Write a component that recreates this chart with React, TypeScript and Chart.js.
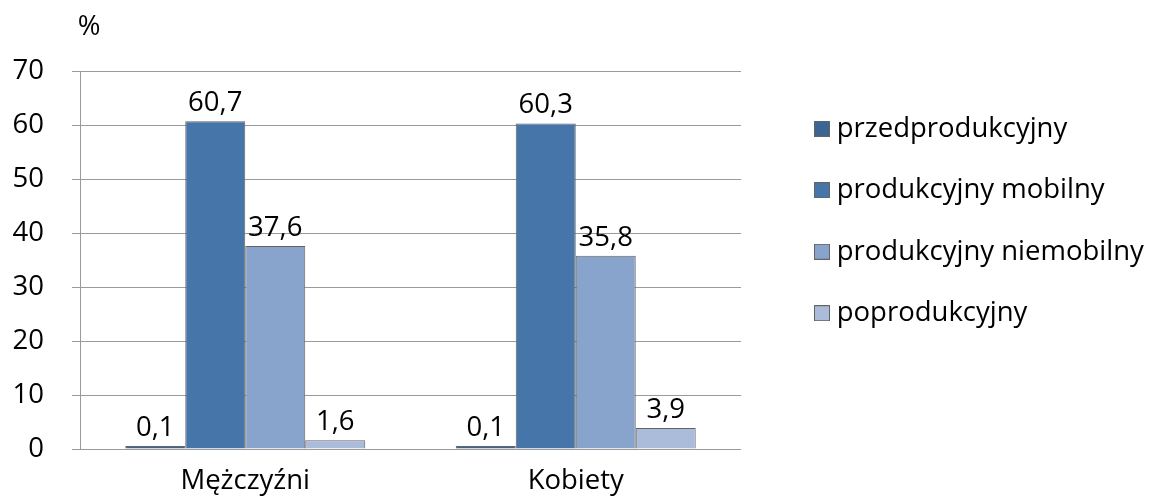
import React, { useEffect, useRef } from 'react';
import { Chart, registerables } from 'chart.js';

Chart.register(...registerables);

const categories = ['Mężczyźni', 'Kobiety'];
const seriesNames = ['przedprodukcyjny', 'produkcyjny mobilny', 'produkcyjny niemobilny', 'poprodukcyjny'];
const przedprodukcyjny = [0.1, 0.1];
const produkcyjnyMobilny = [60.7, 60.3];
const produkcyjnyNiemobilny = [37.6, 35.8];
const poprodukcyjny = [1.6, 3.9];
const yMin = 0;
const yMax = 70;
const yStep = 10;
const unitLabel = '%';

const seriesValues = [przedprodukcyjny, produkcyjnyMobilny, produkcyjnyNiemobilny, poprodukcyjny];
const seriesColors = ['#3B6592', '#4676A9', '#88A4CC', '#ABBCDA'];
const borderCol = '#646464';

const FONT = '"Open Sans", "Noto Sans", sans-serif';
const FS = 27.5;

const fmt = (v: number) => v.toFixed(1).replace('.', ',');

function makeSwatch(color: string) {
  const c = document.createElement('canvas');
  c.width = 16;
  c.height = 16;
  const g = c.getContext('2d')!;
  g.fillStyle = borderCol;
  g.fillRect(0, 0, 16, 16);
  g.fillStyle = color;
  g.fillRect(1, 1, 14, 14);
  return c;
}

const extrasPlugin = {
  id: 'extras',
  beforeLayout(chart: any) {
    const lg = chart.legend;
    if (lg && !lg.__patched) {
      const orig = lg.fit.bind(lg);
      lg.fit = function () {
        orig();
        this.width = 410;
      };
      lg.__patched = true;
    }
  },
  afterLayout(chart: any) {
    const lg = chart.legend;
    if (lg) {
      lg.left = chart.chartArea.right + 46;
      lg.right = chart.width;
      lg.top = 81;
      lg.bottom = chart.height;
    }
  },
  afterDatasetsDraw(chart: any) {
    const ctx = chart.ctx;
    ctx.save();
    ctx.fillStyle = '#000';
    ctx.font = `${FS}px ${FONT}`;
    ctx.textAlign = 'center';
    ctx.textBaseline = 'alphabetic';
    chart.data.datasets.forEach((ds: any, i: number) => {
      const meta = chart.getDatasetMeta(i);
      meta.data.forEach((el: any, j: number) => {
        ctx.fillText(fmt(ds.data[j]), el.x, el.y - 10);
      });
    });
    const ys = chart.scales.y;
    ctx.fillText(unitLabel, ys.right + 9, chart.chartArea.top - 36);
    ctx.restore();
  },
};

export default function App() {
  const ref = useRef<HTMLCanvasElement | null>(null);
  useEffect(() => {
    document.body.style.margin = '0';
    if (!ref.current) return;
    const swatches = seriesColors.map(makeSwatch);
    const chart = new Chart(ref.current, {
      type: 'bar',
      data: {
        labels: categories,
        datasets: seriesNames.map((name, i) => ({
          label: name,
          data: seriesValues[i],
          backgroundColor: seriesColors[i],
          borderColor: borderCol,
          borderWidth: 1,
          minBarLength: 3,
          categoryPercentage: 0.726,
          barPercentage: 1.0,
        })),
      },
      options: {
        animation: false,
        responsive: false,
        devicePixelRatio: 1,
        layout: { padding: { top: 71, left: 0, right: 0, bottom: 0 } },
        plugins: {
          tooltip: { enabled: false },
          title: { display: false },
          legend: {
            display: true,
            position: 'right',
            align: 'start',
            labels: {
              usePointStyle: true,
              pointStyleWidth: 2,
              boxHeight: 16,
              padding: 34,
              color: '#000',
              font: { family: FONT, size: FS },
              generateLabels(ch: any) {
                const items = (Chart as any).defaults.plugins.legend.labels.generateLabels(ch);
                return items.map((it: any, i: number) => ({ ...it, pointStyle: swatches[i] }));
              },
            },
          },
        },
        scales: {
          x: {
            grid: { display: false, drawTicks: false },
            border: { display: false },
            ticks: {
              color: '#000',
              font: { family: FONT, size: FS },
              padding: 16,
            },
            afterFit(scale: any) {
              scale.height = 49;
            },
          },
          y: {
            min: yMin,
            max: yMax,
            grid: { color: '#9A9A9A', lineWidth: 1, tickLength: 8, drawTicks: true },
            border: { display: true, color: '#9A9A9A', width: 1 },
            ticks: {
              stepSize: yStep,
              color: '#000',
              font: { family: FONT, size: FS },
              padding: 28,
            },
            afterFit(scale: any) {
              scale.width = 80;
            },
          },
        },
      },
      plugins: [extrasPlugin],
    } as any);
    return () => chart.destroy();
  }, []);
  return (
    <div style={{ width: 1151, height: 498 }}>
      <canvas ref={ref} width={1151} height={498} style={{ display: 'block' }} />
    </div>
  );
}
